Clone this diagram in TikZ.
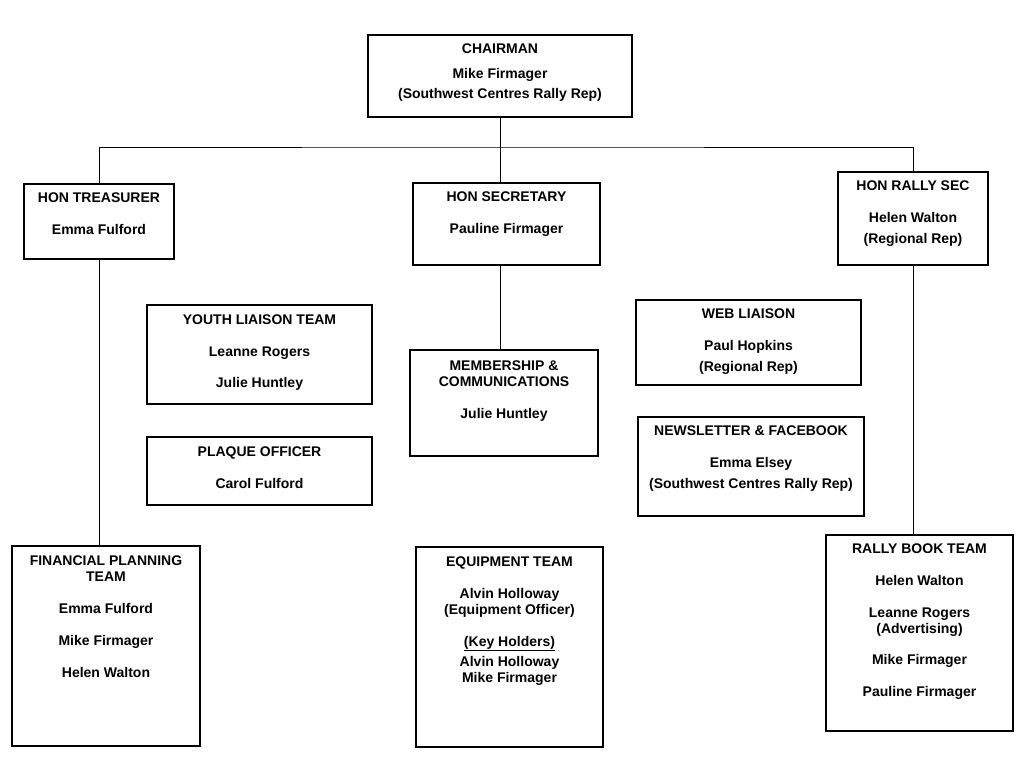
\documentclass[tikz,border=0pt]{standalone}
\usepackage{fontspec}
\setmainfont{Liberation Sans}
\usetikzlibrary{positioning}

\tikzset{
	box/.style={draw, line width=1.3pt, inner sep=0pt},
	txt/.style={align=center, inner sep=0pt, font=\fontsize{14}{16}\selectfont\bfseries},
	link/.style={line width=1pt}
}

\begin{document}
\begin{tikzpicture}[x=1pt,y=-1pt]
	\useasboundingbox (0,0) rectangle (1024,763);
	
	% top level
	\node (chair)[box, minimum width=264, minimum height=82] at (500,76) {};
	\node (chairT)[txt, below=9pt of chair.north] {CHAIRMAN\\[9pt] Mike Firmager\\[4pt] (Southwest Centres Rally Rep)};
	
	% officers
	\node (treas)[box, minimum width=150, minimum height=75] at (99,221.5) {};
	\node (treasT)[txt, below=9pt of treas.north] {HON TREASURER\\[16pt] Emma Fulford};
	
	\node (sec)[box, minimum width=187, minimum height=82] at (506.5,224) {};
	\node (secT)[txt, below=9pt of sec.north] {HON SECRETARY\\[16pt] Pauline Firmager};
	
	\node (rsec)[box, minimum width=150, minimum height=93] at (913,218.5) {};
	\node (rsecT)[txt, below=9pt of rsec.north] {HON RALLY SEC\\[16pt] Helen Walton\\[5pt] (Regional Rep)};
	
	% middle boxes
	\node (youth)[box, minimum width=225, minimum height=99] at (259.5,354.5) {};
	\node (youthT)[txt, below=10pt of youth.north] {YOUTH LIAISON TEAM\\[16pt] Leanne Rogers\\[15pt] Julie Huntley};
	
	\node (plaque)[box, minimum width=225, minimum height=68] at (259.5,471) {};
	\node (plaqueT)[txt, below=10pt of plaque.north] {PLAQUE OFFICER\\[16pt] Carol Fulford};
	
	\node (memb)[box, minimum width=188, minimum height=106] at (504,403) {};
	\node (membT)[txt, below=11pt of memb.north] {MEMBERSHIP \&\\ COMMUNICATIONS\\[16pt] Julie Huntley};
	
	\node (web)[box, minimum width=225, minimum height=85] at (748.5,342.5) {};
	\node (webT)[txt, below=9pt of web.north] {WEB LIAISON\\[16pt] Paul Hopkins\\[5pt] (Regional Rep)};
	
	\node (news)[box, minimum width=226, minimum height=99] at (751,466.5) {};
	\node (newsT)[txt, below=9pt of news.north] {NEWSLETTER \& FACEBOOK\\[16pt] Emma Elsey\\[5pt] (Southwest Centres Rally Rep)};
	
	% teams
	\node (fin)[box, minimum width=188, minimum height=200] at (106,646) {};
	\node (finT)[txt, below=10pt of fin.north] {FINANCIAL PLANNING\\ TEAM\\[16pt] Emma Fulford\\[16pt] Mike Firmager\\[16pt] Helen Walton};
	
	\node (equip)[box, minimum width=187, minimum height=200] at (509.5,647) {};
	\node (equipT)[txt, below=10pt of equip.north] {EQUIPMENT TEAM\\[16pt] Alvin Holloway\\ (Equipment Officer)\\[16pt] \underline{(Key Holders)}\\[4pt] Alvin Holloway\\ Mike Firmager};
	
	\node (rbook)[box, minimum width=187, minimum height=196] at (919.5,633) {};
	\node (rbookT)[txt, below=9pt of rbook.north] {RALLY BOOK TEAM\\[16pt] Helen Walton\\[16pt] Leanne Rogers\\ (Advertising)\\[15pt] Mike Firmager\\[16pt] Pauline Firmager};
	
	% connectors
	\coordinate (bar) at (500,147);
	\draw[link] (chair.south) -- (chair.south |- sec.north);
	\draw[link] (treas.north) |- (bar) -| (rsec.north);
	\draw[link] (chair.south |- sec.south) -- (chair.south |- memb.north);
	\draw[link] (treas.south) -- (treas.south |- fin.north);
	\draw[link] (rsec.south) -- (rsec.south |- rbook.north);
\end{tikzpicture}
\end{document}
